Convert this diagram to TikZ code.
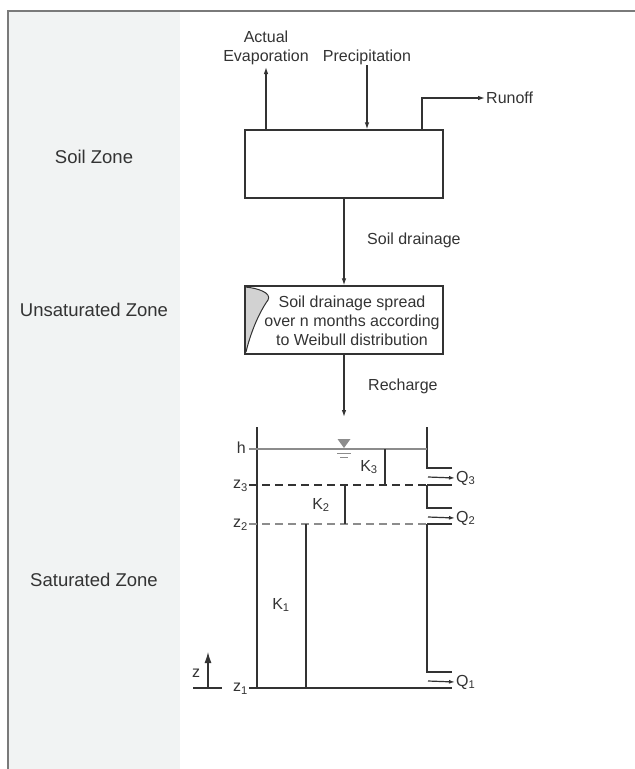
\documentclass[tikz,border=0pt]{standalone}
\usepackage{fontspec}
\setmainfont{Liberation Sans}
\usetikzlibrary{arrows.meta}
\definecolor{panel}{HTML}{F1F3F3}
\definecolor{frame}{HTML}{7A7A7A}
\definecolor{ink}{HTML}{333333}
\definecolor{soft}{HTML}{8C8C8C}
\begin{document}
\begin{tikzpicture}[x=1pt,y=-1pt,
  txt/.style={font=\fontsize{16}{19}\selectfont,text=ink,inner sep=1pt},
  zone/.style={font=\fontsize{18.5}{22}\selectfont,text=ink,inner sep=0pt},
  ln/.style={draw=ink,line width=1.2pt},
  arr/.style={ln,-{Latex[length=7pt,width=4.5pt]}},
  boxnode/.style={draw=ink,line width=1.2pt,minimum width=198pt,minimum height=68pt,inner sep=0pt}]
\useasboundingbox (0,0) rectangle (635,769);
% panel and frame
\fill[panel] (8,11) rectangle (180,769);
\draw[frame,line width=2pt] (635,11) -- (8,11) -- (8,769);
% zone labels
\node[zone] (zsoil) at (94,157) {Soil Zone};
\node[zone] (zunsat) at (94,310) {Unsaturated Zone};
\node[zone] (zsat) at (94,580) {Saturated Zone};
% soil box
\node[boxnode] (soil) at (344,164) {};
\node[txt,align=center] (evap) at (266,48) {Actual\\Evaporation};
\node[txt] (prec) at (367,57) {Precipitation};
\node[txt,anchor=west] (runoff) at (485,98) {Runoff};
\coordinate (evapbot) at (266,67);
\coordinate (precbot) at (367,65);
\draw[arr] (soil.north -| evapbot) -- (evapbot);
\draw[arr] (precbot) -- (soil.north -| precbot);
\draw[arr] (soil.north -| 422,0) |- (runoff.west);
% weibull box
\node[boxnode] (weib) at (344,320) {};
\fill[gray!35] (245,287) .. controls (258,288) and (272,293) .. (268,300)
  .. controls (258,314) and (250,335) .. (246,352) -- (245,352) -- cycle;
\draw[ink,line width=1pt] (245,287) .. controls (258,288) and (272,293) .. (268,300)
  .. controls (258,314) and (250,335) .. (246,352);
\node[boxnode] at (344,320) {};
\node[txt,align=center] (weibtxt) at (352,321) {Soil drainage spread\\over n months according\\to Weibull distribution};
\draw[arr] (soil) -- (weib);
\node[txt,anchor=west] (drain) at (366,240) {Soil drainage};
\coordinate (rechend) at (344,417);
\draw[arr] (weib) -- (rechend);
\node[txt,anchor=west] (rech) at (367,386) {Recharge};
% aquifer
\coordinate (lwtop) at (257,427);
\coordinate (lwbot) at (257,688);
\coordinate (rwtop) at (427,427);
\draw[ln] (lwtop) -- (lwbot);
\draw[ln] (rwtop) -- (427,468) -- (452,468);
\draw[ln] (427,485) -- (427,508) -- (452,508);
\draw[ln] (427,524) -- (427,672) -- (452,672);
% levels
\draw[draw=soft,line width=1.2pt] (249,449) -- (427,449);
\draw[ln,dash pattern=on 8pt off 5pt] (249,485) -- (427,485);
\draw[ln] (427,485) -- (452,485);
\draw[draw=soft,line width=1.2pt,dash pattern=on 8pt off 5pt] (249,524) -- (427,524);
\draw[ln] (427,524) -- (452,524);
\draw[ln] (249,688) -- (452,688);
% level labels
\node[txt,anchor=east,inner sep=0pt] (lh) at (246,448) {h};
\node[txt,anchor=east,inner sep=0pt] (lz3) at (248,486) {z\textsubscript{3}};
\node[txt,anchor=east,inner sep=0pt] (lz2) at (248,525) {z\textsubscript{2}};
\node[txt,anchor=east,inner sep=0pt] (lz1) at (248,689) {z\textsubscript{1}};
% dividers
\draw[ln] (385,449) -- (385,485);
\draw[ln] (345,485) -- (345,524);
\draw[ln] (306,524) -- (306,688);
\node[txt] (k3) at (369,467) {K\textsubscript{3}};
\node[txt] (k2) at (321,505) {K\textsubscript{2}};
\node[txt] (k1) at (281,605) {K\textsubscript{1}};
% water table symbol
\fill[soft] (337.5,439) -- (350.5,439) -- (344,448) -- cycle;
\draw[soft,line width=1pt] (337,453) -- (351,453);
\draw[soft,line width=1pt] (340,457.5) -- (348,457.5);
% outflows
\node[txt,anchor=west] (q3) at (455,478) {Q\textsubscript{3}};
\node[txt,anchor=west] (q2) at (455,518) {Q\textsubscript{2}};
\node[txt,anchor=west] (q1) at (455,682) {Q\textsubscript{1}};
\coordinate (q3s) at (428,477);
\coordinate (q2s) at (428,517);
\coordinate (q1s) at (428,681);
\draw[arr,-{Latex[length=6pt,width=4pt]}] (q3s) -- (q3.west);
\draw[arr,-{Latex[length=6pt,width=4pt]}] (q2s) -- (q2.west);
\draw[arr,-{Latex[length=6pt,width=4pt]}] (q1s) -- (q1.west);
% z axis
\coordinate (zb) at (208,688);
\coordinate (zt) at (208,652);
\draw[ln] (193,688) -- (222,688);
\draw[ln,-{Latex[length=11pt,width=7pt]}] (zb) -- (zt);
\node[txt,inner sep=0pt] (zl) at (196,673) {z};
\end{tikzpicture}
\end{document}
